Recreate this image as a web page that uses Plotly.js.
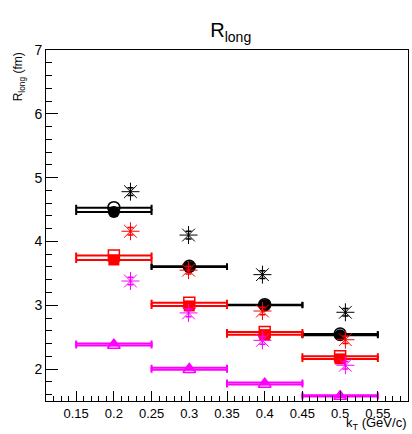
<!DOCTYPE html>
<html>
<head>
<meta charset="utf-8">
<script src="https://cdn.plot.ly/plotly-3.0.1.min.js"></script>
<style>html,body{margin:0;padding:0;background:#fff;}#chart{width:412px;height:434px;}</style>
</head>
<body>
<div id="chart"></div>
<script>
// kT bin centres and half-widths
var kt = [0.2, 0.3, 0.4, 0.5];
var ktHalfWidth = [0.05, 0.05, 0.05, 0.05];
var ktStar = [0.222, 0.299, 0.397, 0.507];

// R_long values (fm)
var blackOpen   = [4.53, 3.61, 3.01, 2.55];
var blackFilled = [4.46, 3.60, 3.00, 2.53];
var redOpen     = [3.78, 3.04, 2.58, 2.20];
var redFilled   = [3.71, 2.99, 2.54, 2.16];
var magOpen     = [2.37, 1.99, 1.76, 1.57];
var magFilled   = [2.40, 2.02, 1.79, 1.59];
var blackStar   = [4.78, 4.10, 3.48, 2.89];
var redStar     = [4.16, 3.55, 2.91, 2.46];
var magStar     = [3.38, 2.88, 2.45, 2.06];
var starErr     = [0.06, 0.06, 0.06, 0.06];

var yTickVals = [2, 3, 4, 5, 6, 7];
var xTickVals = [0.15, 0.2, 0.25, 0.3, 0.35, 0.4, 0.45, 0.5, 0.55];
var xTickText = ['0.15', '0.2', '0.25', '0.3', '0.35', '0.4', '0.45', '0.5', '0.55'];

function binTrace(y, color, symbol, size, lw) {
  return {
    x: kt, y: y, type: 'scatter', mode: 'markers',
    marker: {color: color, symbol: symbol, size: size, line: {color: color, width: lw}},
    error_x: {type: 'data', array: ktHalfWidth, visible: true, color: color, thickness: 2, width: 3},
    hoverinfo: 'skip', showlegend: false, cliponaxis: false
  };
}
function starTrace(y, color) {
  return {
    x: ktStar, y: y, type: 'scatter', mode: 'markers',
    marker: {color: color, symbol: 'asterisk-open', size: 15, line: {color: color, width: 1}},
    error_y: {type: 'data', array: starErr, visible: true, color: color, thickness: 1.5, width: 3},
    hoverinfo: 'skip', showlegend: false
  };
}

var data = [
  binTrace(blackOpen, '#000000', 'circle-open', 12, 1.5),
  binTrace(blackFilled, '#000000', 'circle', 12, 0),
  binTrace(redOpen, '#ff0000', 'square-open', 11, 1.5),
  binTrace(redFilled, '#ff0000', 'square', 11, 0),
  binTrace(magOpen, '#ff00ff', 'triangle-up-open', 11, 1.5),
  binTrace(magFilled, '#ff00ff', 'triangle-up', 11, 0),
  starTrace(blackStar, '#000000'),
  starTrace(redStar, '#ff0000'),
  starTrace(magStar, '#ff00ff')
];

var layout = {
  width: 412, height: 434,
  margin: {l: 46, r: 4, t: 50, b: 33, pad: 0},
  paper_bgcolor: '#ffffff', plot_bgcolor: '#ffffff',
  font: {family: 'Liberation Sans, Arial, sans-serif', color: '#000000', size: 13},
  title: {text: 'R<sub>long</sub>', font: {size: 20}, x: 0.56, xanchor: 'center', y: 0.93, yanchor: 'middle', yref: 'container'},
  xaxis: {
    range: [0.11, 0.59], showgrid: false, zeroline: false,
    showline: true, linecolor: '#000', linewidth: 1, mirror: true,
    ticks: 'inside', ticklen: 10, tickwidth: 1, tickcolor: '#000',
    tickvals: xTickVals, ticktext: xTickText, tickfont: {size: 13},
    minor: {ticks: 'inside', ticklen: 5, dtick: 0.01, tick0: 0.1, tickcolor: '#000', showgrid: false}
  },
  yaxis: {
    range: [1.5, 7], showgrid: false, zeroline: false,
    showline: true, linecolor: '#000', linewidth: 1, mirror: true,
    ticks: 'inside', ticklen: 12, tickwidth: 1, tickcolor: '#000',
    tickvals: yTickVals, tickfont: {size: 14},
    minor: {ticks: 'inside', ticklen: 6, dtick: 0.2, tick0: 0, tickcolor: '#000', showgrid: false}
  },
  annotations: [
    {text: 'R<sub>long</sub> (fm)', xref: 'paper', yref: 'paper', x: -0.075, y: 1.0,
     xanchor: 'center', yanchor: 'top', textangle: -90, showarrow: false, font: {size: 12}},
    {text: 'k<sub>T</sub> (GeV/c)', xref: 'paper', yref: 'paper', x: 1.0, y: -0.093,
     xanchor: 'right', yanchor: 'bottom', showarrow: false, font: {size: 13}}
  ]
};

Plotly.newPlot('chart', data, layout, {displayModeBar: false, staticPlot: true});
</script>
</body>
</html>
